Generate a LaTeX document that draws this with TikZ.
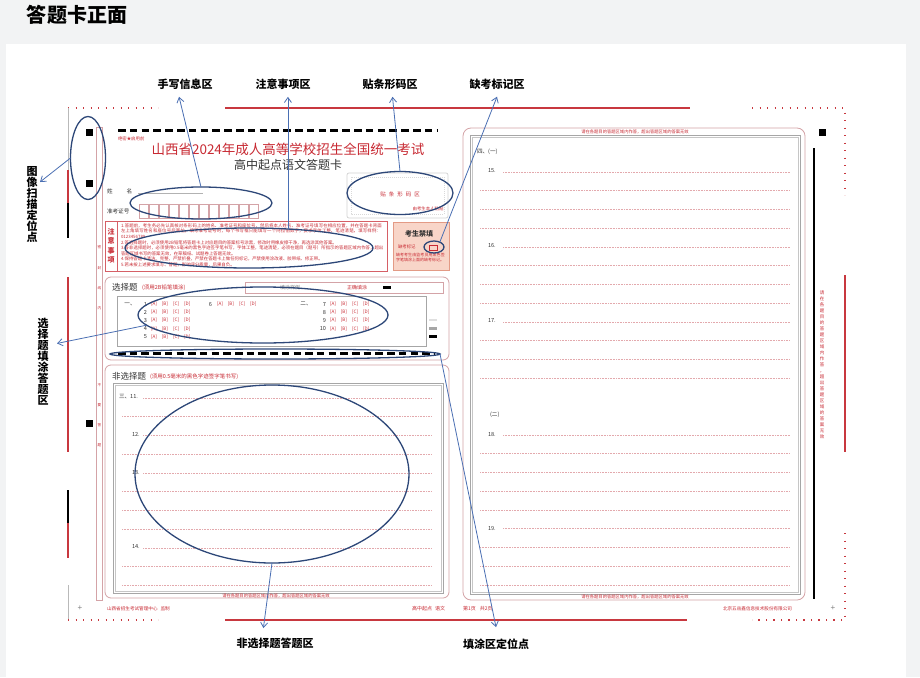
\documentclass[tikz,border=0pt]{standalone}
\usepackage{fontspec}
\setmainfont{Liberation Sans}
\newfontfamily\cjk{Noto Sans CJK SC}
\XeTeXlinebreaklocale "zh"
\XeTeXlinebreakskip=0pt plus 0.5pt
\usetikzlibrary{shapes.geometric,arrows.meta,calc}
\definecolor{bggray}{HTML}{F2F3F4}
\definecolor{cardred}{HTML}{C82A33}
\definecolor{linered}{HTML}{C8383F}
\definecolor{pinkbox}{HTML}{D4A3A7}
\definecolor{dotpink}{HTML}{E3A9AD}
\definecolor{ellblue}{HTML}{2D4778}
\definecolor{arrblue}{HTML}{4A6FB3}
\definecolor{salmon}{HTML}{F8D5C8}
\definecolor{salmonb}{HTML}{E39A85}
\definecolor{darktxt}{HTML}{333333}
\newcommand\fs[1]{\fontsize{#1}{#1}\selectfont}
\def\vstkend{}
\def\vstk#1{\vstkl#1\vstkend}
\def\vstkl#1{\ifx#1\vstkend\else#1\par\expandafter\vstkl\fi}
\newcommand\opts{[A]\hspace{5pt}[B]\hspace{5pt}[C]\hspace{5pt}[D]}
\begin{document}
\begin{tikzpicture}[x=1pt,y=-1pt,
  every node/.style={inner sep=0pt,outer sep=0pt},
  ell/.style={ellipse,draw=ellblue,line width=1.3pt,inner sep=0pt},
  arr/.style={draw=arrblue,line width=0.8pt,-{Straight Barb[length=5pt,width=7pt]}},
  lbl/.style={font=\cjk\bfseries\fs{11},inner xsep=0pt,inner ysep=7.5pt},
  vlbl/.style={font={\cjk\bfseries\fontsize{11}{11}\selectfont\lineskiplimit=-20pt},text width=11pt,align=center},
  redln/.style={draw=linered,line width=2pt},
  blkln/.style={draw=black,line width=2pt},
  reddot/.style={draw=linered,line width=1.6pt,dash pattern=on 1.4pt off 6.1pt},
  ans/.style={draw=dotpink,line width=0.6pt,dash pattern=on 0.7pt off 0.9pt},
  sect/.style={draw=pinkbox,line width=0.8pt,rounded corners=6pt},
  inbox/.style={draw=gray!70,line width=0.6pt},
  rtxt/.style={text=cardred,font=\cjk\fs{4.4}},
  dtxt/.style={text=darktxt,font=\cjk\fs{5.6}},
  opt/.style={text=cardred,font=\cjk\fs{4.6}},
  sqr/.style={fill=black,minimum size=7pt}]
\useasboundingbox (0,0) rectangle (920,677);
\fill[bggray] (0,0) rectangle (920,677);
\fill[white] (6,44) rectangle (906,677);
\node[anchor=west,font=\cjk\bfseries\fs{20}] (title) at (27,15) {答题卡正面};

% ---------- outer margins ----------
\draw[reddot] (68,108) -- (158,108);
\draw[gray!55,line width=0.6pt] (68,108) -- (68,170);
\draw[redln] (68,170) -- (68,203);
\draw[blkln] (68,203) -- (68,238);
\draw[redln] (68,277) -- (68,452);
\draw[blkln] (68,490) -- (68,523);
\draw[redln] (68,523) -- (68,558);
\draw[gray!55,line width=0.6pt] (68,585) -- (68,620);
\draw[reddot] (68,620) -- (158,620);
\draw[redln] (225,108) -- (690,108);
\draw[redln] (225,620) -- (687,620);
\draw[reddot] (752,108) -- (845,108) -- (845,195);
\draw[redln] (845,275) -- (845,452);
\draw[reddot] (845,533) -- (845,620) -- (752,620);
\node[sqr] (s1) at (89,132) {};
\node[sqr] (s2) at (89,183) {};
\node[sqr] (s3) at (89,423) {};
\node[sqr] (s4) at (822,132) {};
\draw[black,line width=1.5pt] (814,148) -- (814,599);
\node[text=cardred,font={\cjk\fontsize{4.5}{6}\selectfont},text width=6pt,align=center] (rvt) at (822,365)
  {\vstk{请在各题目的答题区域内作答，超出答题区域的答案无效}};

% sealing strip
\draw[pinkbox,line width=0.6pt] (96.5,127) rectangle (102.5,600);
\foreach \c/\y in {密/247,封/268,线/288,内/308,不/385,要/405,答/425,题/445}
  \node[text=cardred,font=\cjk\fs{3.6}] at (99.5,\y) {\c};

% ---------- header ----------
\draw[line width=3pt,dash pattern=on 7.5pt off 4.3pt] (118,130) -- (437,130);
\node[rtxt,anchor=west] (secret) at (118,139) {绝密★启用前};
\node[text=cardred,font=\cjk\fs{13.5}] (ctitle) at (288,149) {山西省2024年成人高等学校招生全国统一考试};
\node[text=darktxt,font=\cjk\fs{12}] (csub) at (288,165) {高中起点语文答题卡};
\node[dtxt,anchor=west] (name) at (107,191) {姓\hspace{14pt}名};
\draw[gray!60,line width=0.6pt] (138,193) -- (203,193);
\node[dtxt,anchor=west] (zkzh) at (107,211) {准考证号};
\foreach \i in {0,...,11}
  \draw[pinkbox,line width=0.7pt] ({139+10*\i},204) rectangle ({148.5+10*\i},218);

% barcode box
\draw[gray!35,line width=0.7pt,rounded corners=2pt] (347,173) rectangle (448,218);
\draw[gray!30,line width=0.5pt,dash pattern=on 1pt off 1pt] (351,177) rectangle (444,214);
\node[text=cardred,font=\cjk\fs{5.5}] (bctxt) at (400,194) {贴\hspace{3pt}条\hspace{3pt}形\hspace{3pt}码\hspace{3pt}区};
\node[rtxt] (bcsub) at (428,209) {由考生本人粘贴};

% notes box
\draw[cardred!75,line width=0.7pt] (105,221) rectangle (387,271);
\draw[cardred!75,line width=0.6pt] (117,221) -- (117,271);
\node[text=cardred,font={\cjk\bfseries\fontsize{7}{9.5}\selectfont\lineskiplimit=-20pt},text width=8pt,align=center] (zysx) at (111,246) {\vstk{注意事项}};
\node[anchor=north west,text width=263pt,align=left,text=cardred,font={\cjk\fontsize{4.4}{5.6}\selectfont}] (notestxt) at (121,223.5)
{1.答题前，考生务必先认真核对条形码上的姓名、准考证号和座位号，然后将本人姓名、准考证号填写在相应位置，并在答题卡背面左上角填写姓名和座位号后两位。填写准考证号时，每个书写框只能填写一个阿拉伯数字，要求字体工整、笔迹清楚。填写样例：0123456789\par
2.答选择题时，必须使用2B铅笔将答题卡上对应题目的答案标号涂黑，修改时用橡皮擦干净，再选涂其他答案。\par
3.答非选择题时，必须使用0.5毫米的黑色字迹签字笔书写，字体工整，笔迹清楚，必须在题目（题号）所指示的答题区域内作答，超出答题区域书写的答案无效，在草稿纸、试题卷上答题无效。\par
4.保持答题卡清洁、完整，严禁折叠，严禁在答题卡上做任何标记，严禁使用涂改液、胶带纸、修正带。\par
5.若未按上述要求填写、答题，影响评分质量，后果自负。};

% absent box
\draw[draw=salmonb,fill=salmon,line width=0.7pt] (393,222) rectangle (449,270);
\node[text=darktxt,font=\cjk\bfseries\fs{7}] (ksjt) at (419,234) {考生禁填};
\node[rtxt,anchor=west] (qkbj) at (398,247) {缺考标记};
\draw[cardred,line width=0.5pt] (429,245) rectangle (437,250);
\node[anchor=north west,text width=50pt,align=left,text=cardred,font={\cjk\fontsize{4}{5.2}\selectfont}] (qktxt) at (396,253)
{缺考考生由监考员用黑色签字笔填涂上面的缺考标记。};

% ---------- choice section ----------
\draw[sect] (105,277) rectangle (449,360);
\node[anchor=west,text=darktxt,font=\cjk\fs{8.5}] (xzt) at (112,287) {选择题};
\node[anchor=west,text=cardred,font=\cjk\fs{5.5}] (xztn) at (142,287.5) {(须用2B铅笔填涂)};
\draw[pinkbox,line width=0.7pt] (245,282) rectangle (443,293);
\node[text=gray,font=\cjk\fs{5}] (tyl) at (290,287.5) {填涂样例};
\node[text=cardred,font=\cjk\fs{5}] (zqtt) at (357,287.5) {正确填涂};
\fill[black] (383,285.8) rectangle (391,288.8);
\draw[inbox] (117,296) rectangle (426,346);
\node[dtxt] (one) at (130,304) {一、};
\node[dtxt] (two) at (306,304) {二、};
\foreach \n/\y in {1/304,2/312.2,3/320.4,4/328.6,5/336.8}{
  \node[dtxt,anchor=east] (q\n) at (147,\y) {\n};
  \node[opt,anchor=west] (o\n) at (151,\y) {\opts};
}
\node[dtxt,anchor=east] (q6) at (212,304) {6};
\node[opt,anchor=west] (o6) at (217,304) {\opts};
\foreach \n/\y in {7/304,8/312.2,9/320.4,10/328.6}{
  \node[dtxt,anchor=east] (q\n) at (326,\y) {\n};
  \node[opt,anchor=west] (o\n) at (330,\y) {\opts};
}
\fill[gray!25] (429,319.2) rectangle (437,321.4);
\fill[gray!70] (429,327.4) rectangle (437,329.8);
\fill[black] (429,335.4) rectangle (437,338.4);
\draw[line width=3pt,dash pattern=on 7.5pt off 4.2pt] (118,353) -- (435,353);

% ---------- non-choice section ----------
\draw[sect] (105,365) rectangle (449,598);
\node[anchor=west,text=darktxt,font=\cjk\fs{8.5}] (fxzt) at (112,376) {非选择题};
\node[anchor=west,text=cardred,font=\cjk\fs{5.5}] (fxztn) at (150,376.5) {(须用0.5毫米的黑色字迹签字笔书写)};
\draw[inbox] (113,383) rectangle (443,593.5);
\draw[gray!45,line width=0.5pt] (115,385) rectangle (441,591.5);
\node[dtxt,anchor=west] (q11) at (119,397) {三、11.};
\node[dtxt,anchor=west] (q12) at (132,434) {12.};
\node[dtxt,anchor=west] (q13) at (132,472) {13.};
\node[dtxt,anchor=west] (q14) at (132,547) {14.};
\foreach \y in {398,435.5,473,548} \draw[ans] (143,\y) -- (432,\y);
\foreach \y in {416.75,454.25,491.75,510.5,529.25,566.75,585.5} \draw[ans] (122,\y) -- (432,\y);
\node[text=cardred,font=\cjk\fs{4.3}] (lfoot) at (276,596) {请在各题目的答题区域内作答，超出答题区域的答案无效};

% ---------- right column ----------
\draw[draw=pinkbox,line width=0.8pt,rounded corners=8pt] (463,128) rectangle (805,600);
\draw[inbox] (470,135) rectangle (800,594.5);
\draw[gray!45,line width=0.5pt] (472,137) rectangle (798,592.5);
\node[text=cardred,font=\cjk\fs{4.3}] (rhead) at (635,131.5) {请在各题目的答题区域内作答，超出答题区域的答案无效};
\node[text=cardred,font=\cjk\fs{4.3}] (rfoot) at (635,597) {请在各题目的答题区域内作答，超出答题区域的答案无效};
\node[dtxt,anchor=west] (four) at (477,152) {四、(一)};
\node[dtxt,anchor=west] (q15) at (488,171) {15.};
\node[dtxt,anchor=west] (q16) at (488,246) {16.};
\node[dtxt,anchor=west] (q17) at (488,321) {17.};
\node[dtxt,anchor=west] (sec2) at (490,415) {(二)};
\node[dtxt,anchor=west] (q18) at (488,434) {18.};
\node[dtxt,anchor=west] (q19) at (488,528) {19.};
\foreach \y in {172,247,322,435,528.75} \draw[ans] (503,\y) -- (790,\y);
\foreach \y in {190.75,209.5,228.25,265.75,284.5,303.25,340.75,359.5,378.25,453.75,472.5,491.25,510,547.5,566.25,585} \draw[ans] (480,\y) -- (790,\y);

% ---------- footer ----------
\node[text=gray,font=\fs{8}] (plusl) at (80,608.5) {+};
\node[text=gray,font=\fs{8}] (plusr) at (833,608) {+};
\node[anchor=west,text=cardred,font=\cjk\fs{4.6}] (fl) at (107,609) {山西省招生考试管理中心\hspace{3pt}监制};
\node[anchor=west,text=cardred,font=\cjk\fs{5}] (fm) at (412,609) {高中起点\hspace{3pt}语文};
\node[anchor=west,text=cardred,font=\cjk\fs{5}] (fp) at (463,609) {第1页\hspace{4pt}共2页};
\node[anchor=west,text=cardred,font=\cjk\fs{4.6}] (fr) at (723,609) {北京五岳鑫信息技术股份有限公司};

% ---------- highlight ellipses ----------
\node[ell,minimum width=35pt,minimum height=83pt] (scan) at (88,158) {};
\node[ell,minimum width=142pt,minimum height=32pt] (hw) at (201,203) {};
\node[ell,minimum width=248pt,minimum height=40pt] (notes) at (249,248) {};
\node[ell,minimum width=106pt,minimum height=43pt] (bc) at (400,193) {};
\node[ell,minimum width=20pt,minimum height=12pt] (ab) at (434,247) {};
\node[ell,minimum width=250pt,minimum height=56pt] (choice) at (263,315) {};
\node[ell,minimum width=330pt,minimum height=10pt] (dash) at (275,354) {};
\node[ell,minimum width=274pt,minimum height=178pt] (big) at (272,474) {};

% ---------- labels ----------
\node[lbl] (l1) at (185,84) {手写信息区};
\node[lbl] (l2) at (283,84) {注意事项区};
\node[lbl] (l3) at (390,84) {贴条形码区};
\node[lbl] (l4) at (497,84) {缺考标记区};
\node[vlbl,inner xsep=2.5pt] (l5) at (32,204) {\vstk{图像扫描定位点}};
\node[vlbl,inner xsep=8.5pt] (l6) at (43,362) {\vstk{选择题填涂答题区}};
\node[lbl,inner ysep=11.5pt] (l7) at (496,644) {填涂区定位点};
\node[lbl,inner ysep=9.5pt] (l8) at (275,643) {非选择题答题区};

% ---------- arrows ----------
\draw[arr] (hw.north) -- (l1.245);
\draw[arr] (notes.26.6) -- (notes.26.6 |- l2.south);
\draw[arr] (bc.north) -- (l3.281);
\draw[arr] (ab.40) -- (l4.south);
\draw[arr] (scan.west) -- (l5.70);
\draw[arr] (choice.185.7) -- (l6.53.6);
\draw[arr] (dash.-0.75) -- (l7.north);
\draw[arr] (big.south) -- (l8.128.7);
\end{tikzpicture}
\end{document}
